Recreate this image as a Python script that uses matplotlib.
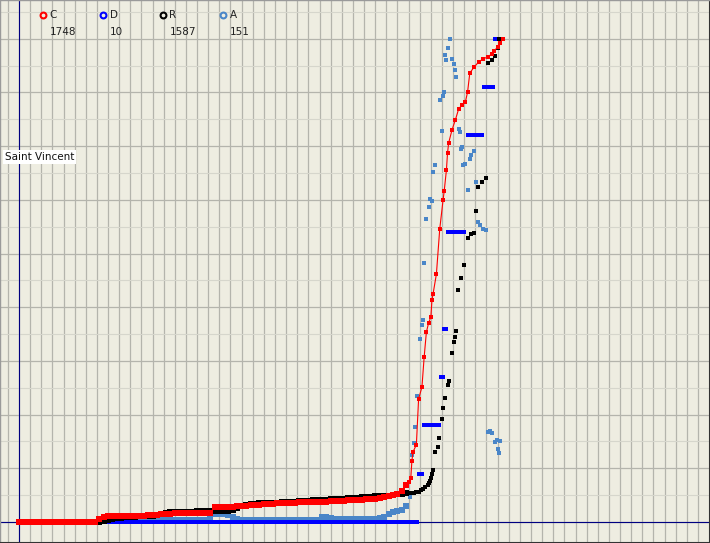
import matplotlib
matplotlib.use("Agg")
import matplotlib.pyplot as plt
import numpy as np

# days since start (4-day samples for the slow early part)
LOW_DAYS = list(range(0, 349, 4))

C_LOW = [0, 0, 0, 0, 0, 0, 0, 0, 0, 0,
         0, 0, 0, 0, 0, 0, 0, 0, 11, 18,
         20, 20, 20, 21, 22, 22, 23, 23, 23, 24,
         24, 25, 29, 30, 30, 31, 31, 31, 32, 32,
         33, 33, 34, 34, 54, 55, 55, 56, 56, 57,
         58, 59, 60, 61, 62, 64, 65, 66, 68, 69,
         69, 70, 70, 71, 71, 72, 73, 73, 74, 74,
         75, 75, 76, 77, 78, 78, 79, 80, 82, 83,
         84, 87, 90, 93, 96, 102, 112, 135]
R_LOW = [0, 0, 0, 0, 0, 0, 0, 0, 0, 0,
         0, 0, 0, 0, 0, 0, 0, 0, 0, 2,
         6, 10, 13, 14, 15, 16, 18, 19, 20, 21,
         21, 22, 26, 30, 33, 33, 34, 34, 34, 34,
         35, 35, 35, 35, 35, 35, 36, 36, 38, 45,
         52, 56, 58, 60, 61, 62, 63, 64, 64, 65,
         65, 66, 67, 68, 69, 70, 71, 72, 72, 73,
         74, 75, 76, 77, 78, 79, 80, 81, 82, 83,
         84, 85, 86, 87, 88, 91, 93, 94]
A_LOW = [0, 0, 0, 0, 0, 0, 0, 0, 0, 0,
         0, 0, 0, 0, 0, 0, 0, 0, 4, 8,
         10, 10, 11, 10, 9, 6, 5, 4, 4, 4,
         3, 3, 4, 4, 4, 3, 3, 3, 3, 3,
         3, 3, 3, 8, 14, 15, 14, 13, 10, 6,
         4, 4, 4, 4, 4, 4, 4, 4, 4, 4,
         4, 4, 4, 4, 4, 4, 4, 4, 9, 9,
         7, 5, 5, 5, 5, 5, 5, 5, 5, 5,
         5, 7, 10, 14, 19, 20, 22, 30]

# steep part
C_DAYS = [350, 352, 353, 354, 357, 359, 362, 364, 366, 368, 370, 371, 372, 375,
          378, 381, 382, 384, 385, 386, 389, 392, 395, 398, 401, 403, 405, 409,
          413, 417, 421, 425, 427, 430, 432, 435]
C_VALS = [146, 160, 222, 254, 279, 445, 488, 597, 687, 720, 741, 803, 825, 897,
          1060, 1165, 1197, 1273, 1335, 1371, 1418, 1454, 1494, 1508, 1519, 1555,
          1624, 1646, 1664, 1675, 1682, 1693, 1704, 1718, 1733, 1748]

R_DAYS = [351, 353, 355, 357, 359, 361, 363, 365, 367, 368, 369, 370, 371, 372,
          374, 376, 377, 380, 381, 383, 385, 386, 389, 391, 392, 393, 394, 397,
          400, 403, 406, 409, 411, 412, 416, 420, 421, 425, 428, 430, 431]
R_VALS = [95, 95, 96, 97, 100, 104, 108, 114, 122, 127, 135, 143, 157, 171,
          231, 247, 275, 337, 375, 406, 450, 464, 554, 592, 608, 628, 762, 800,
          844, 932, 946, 948, 1021, 1099, 1117, 1129, 1506, 1517, 1530, 1555, 1587]

A_DAYS = [349, 351, 353, 355, 356, 358, 360, 362, 363, 364, 366, 368, 369, 371,
          372, 374, 378, 380, 381, 382, 383, 384, 385, 387, 389, 391, 392, 393,
          395, 396, 397, 398, 399, 401, 403, 405, 406, 409, 411, 412, 414, 417,
          420, 421, 423, 425, 428, 429, 430, 431, 432]
A_VALS = [32, 47, 124, 147, 177, 234, 340, 366, 376, 483, 564, 586, 601, 598,
          651, 664, 785, 729, 794, 801, 869, 860, 883, 900, 862, 852, 841, 828,
          732, 727, 695, 698, 664, 667, 619, 676, 684, 690, 633, 558, 553, 545,
          544, 168, 170, 166, 149, 153, 136, 129, 151]

# deaths: level held between first and last day
D_LEVELS = [0, 1, 2, 3, 4, 6, 8, 9, 10]
D_FIRST = [0, 359, 364, 379, 382, 385, 403, 418, 428]
D_LAST = [358, 362, 377, 381, 384, 400, 416, 426, 432]

NAMES = ['C', 'D', 'R', 'A']
COLORS = ['#ff0000', '#0000ff', '#000000', '#4a86c8']
BG = '#eeede1'

low = np.array(LOW_DAYS)
c_low = np.array(C_LOW, dtype=float)
r_low = np.array(R_LOW, dtype=float)
a_low = np.array(A_LOW, dtype=float)
c_max = max(C_VALS)
r_max = max(R_VALS)
a_max = max(A_VALS)
d_days = np.concatenate([np.arange(f, l + 1) for f, l in zip(D_FIRST, D_LAST)])
d_vals = np.concatenate([np.full(l - f + 1, v, dtype=float)
                         for v, f, l in zip(D_LEVELS, D_FIRST, D_LAST)])

fig = plt.figure(figsize=(7.1, 5.43), dpi=100, facecolor=BG)
ax = fig.add_axes([0, 0, 1, 1])
ax.set_facecolor(BG)
ax.set_xlim(-17.07, 620.8)
ax.set_ylim(-0.04345, 1.0801)

# grid
for d in range(-10, 620, 10):
    ax.axvline(d, color='#b4b4ac', lw=0.9, zorder=0)
for k in range(0, 10):
    ax.axhline(k / 9, color='#b4b4ac', lw=0.9, zorder=0)
for k in range(0, 10):
    ax.axhline((k + 0.5) / 9, color='#d6d6cc', lw=0.8, zorder=0)

ax.axvline(0, color='#000080', lw=0.8, zorder=1)
ax.axhline(0, color='#000080', lw=0.8, zorder=1)

ms = 3.2
ms_low = 4.0
# A (active)
ax.plot(low, a_low / a_max, 's', color=COLORS[3], ms=ms_low, mew=0, zorder=2)
ax.plot(A_DAYS, np.array(A_VALS) / a_max, 's', color=COLORS[3], ms=ms, mew=0, zorder=2)
# D (deaths)
ax.plot(d_days, d_vals / d_vals.max(), 's', color=COLORS[1], ms=ms, mew=0, zorder=3)
# R (recovered)
ax.plot(low, r_low / r_max, 's', color=COLORS[2], ms=ms_low, mew=0, zorder=4)
ax.plot(R_DAYS, np.array(R_VALS) / r_max, 's', color=COLORS[2], ms=ms, mew=0, zorder=4)
# C (confirmed), joined by a line
c_all_days = np.concatenate([low, C_DAYS])
c_all = np.concatenate([c_low, C_VALS]) / c_max
ax.plot(c_all_days, c_all, '-', color=COLORS[0], lw=0.8, zorder=5)
ax.plot(low, c_low / c_max, 's', color=COLORS[0], ms=ms_low, mew=0, zorder=5)
ax.plot(C_DAYS, np.array(C_VALS) / c_max, 's', color=COLORS[0], ms=ms, mew=0, zorder=5)

# legend row at the top
last = [C_VALS[-1], D_LEVELS[-1], R_VALS[-1], A_VALS[-1]]
for i, (name, col, val) in enumerate(zip(NAMES, COLORS, last)):
    x0 = (42.5 + 60 * i) / 710
    ax.plot([x0], [1 - 15 / 543], 'o', transform=ax.transAxes, ms=4.2,
            mfc=BG, mec=col, mew=1.5, clip_on=False, zorder=6)
    ax.text(x0 + 7 / 710, 1 - 15 / 543, name, transform=ax.transAxes,
            fontsize=7.5, va='center', ha='left', color='#222222')
    ax.text(x0 + 7.5 / 710, 1 - 32 / 543, str(int(val)), transform=ax.transAxes,
            fontsize=7.5, va='center', ha='left', color='#222222')

ax.text(5 / 710, 1 - 157 / 543, 'Saint Vincent', transform=ax.transAxes,
        fontsize=7.5, va='center', ha='left', color='#111111',
        bbox=dict(facecolor='white', edgecolor='none', pad=1.5), zorder=7)

ax.set_xticks([])
ax.set_yticks([])
for side in ['top', 'left']:
    ax.spines[side].set_color('#9a9a9a')
    ax.spines[side].set_linewidth(1)
for side in ['bottom', 'right']:
    ax.spines[side].set_color('#333333')
    ax.spines[side].set_linewidth(1.5)

fig.savefig('out.png', dpi=100, facecolor=BG)
